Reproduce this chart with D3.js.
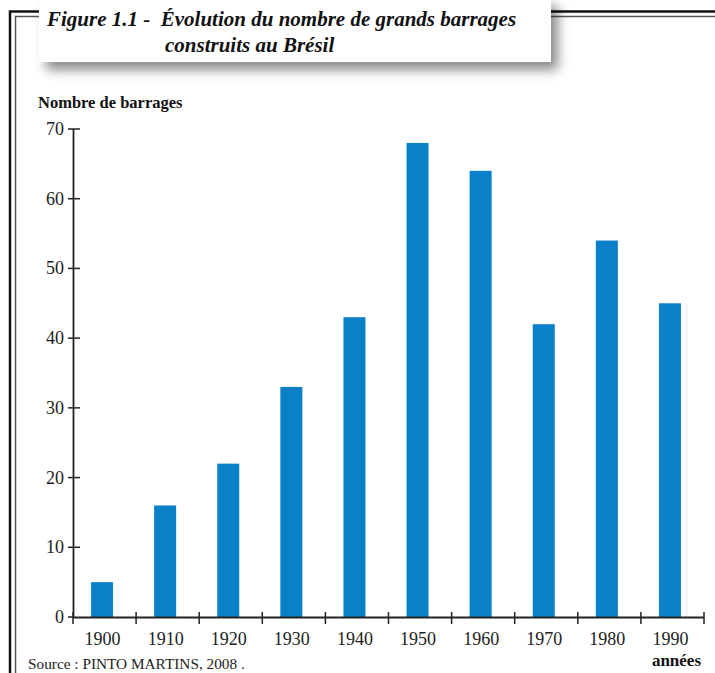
<!DOCTYPE html>
<html>
<head>
<meta charset="utf-8">
<script src="https://cdn.jsdelivr.net/npm/d3@7"></script>
<style>
  body { margin: 0; background: #fff; }
  text { font-family: "Liberation Serif", "DejaVu Serif", serif; }
</style>
</head>
<body>
<div class="dataContainer"></div>
<script>
// decades and number of large dams built
var years = ["1900", "1910", "1920", "1930", "1940", "1950", "1960", "1970", "1980", "1990"];
var barrages = [5, 16, 22, 33, 43, 68, 64, 42, 54, 45];
var yTicks = [0, 10, 20, 30, 40, 50, 60, 70];

var svg = d3.select(".dataContainer").append("svg")
    .attr("width", 715)
    .attr("height", 673);

// shadow for the title box
var defs = svg.append("defs");
var f = defs.append("filter").attr("id", "shadow")
    .attr("x", "-10%").attr("y", "-30%").attr("width", "130%").attr("height", "200%");
f.append("feDropShadow")
    .attr("dx", 7).attr("dy", 8)
    .attr("stdDeviation", 6)
    .attr("flood-color", "#000")
    .attr("flood-opacity", 0.45);

// double frame (left + top)
svg.append("path")
    .attr("d", "M10,673 V11.5 H715")
    .attr("fill", "none").attr("stroke", "#111").attr("stroke-width", 2.5);
svg.append("path")
    .attr("d", "M15.5,673 V16.5 H715")
    .attr("fill", "none").attr("stroke", "#555").attr("stroke-width", 1.5);

// title box
svg.append("rect")
    .attr("x", 39).attr("y", -2)
    .attr("width", 512).attr("height", 64)
    .attr("fill", "#fff")
    .attr("filter", "url(#shadow)");

svg.append("text")
    .attr("x", 47).attr("y", 26)
    .attr("font-size", 21).attr("font-style", "italic").attr("font-weight", "bold")
    .attr("fill", "#111")
    .text("Figure 1.1 -\u00a0 Évolution du nombre de grands barrages");
svg.append("text")
    .attr("x", 165).attr("y", 52)
    .attr("font-size", 21).attr("font-style", "italic").attr("font-weight", "bold")
    .attr("fill", "#111")
    .text("construits au Brésil");

var x = d3.scaleBand()
    .domain(years)
    .range([73, 704])
    .paddingInner(0)
    .paddingOuter(0);

var y = d3.scaleLinear()
    .domain([0, 70])
    .range([617, 129]);

// bars
svg.selectAll("rect.bar")
    .data(years)
    .enter()
    .append("rect")
    .attr("class", "bar")
    .attr("x", function (d) { return x(d) + x.bandwidth() / 2 - 13.5; })
    .attr("width", 22)
    .attr("y", function (d, i) { return y(barrages[i]); })
    .attr("height", function (d, i) { return y(0) - y(barrages[i]); })
    .attr("fill", "#0980c7");

// y axis
var yAxis = svg.append("g");
yAxis.append("line")
    .attr("x1", 73.5).attr("x2", 73.5)
    .attr("y1", y(70)).attr("y2", y(0))
    .attr("stroke", "#222").attr("stroke-width", 1.8);
yAxis.selectAll("line.tick")
    .data(yTicks)
    .enter()
    .append("line")
    .attr("class", "tick")
    .attr("x1", 68).attr("x2", function (d) { return d == 0 ? 74 : 80; })
    .attr("y1", function (d) { return y(d); })
    .attr("y2", function (d) { return y(d); })
    .attr("stroke", "#222").attr("stroke-width", 1.5);
yAxis.selectAll("text")
    .data(yTicks)
    .enter()
    .append("text")
    .attr("x", 64)
    .attr("y", function (d) { return y(d) + 6; })
    .attr("text-anchor", "end")
    .attr("font-size", 18)
    .attr("fill", "#222")
    .text(function (d) { return d; });

// x axis
var xEdges = years.map(function (d) { return x(d); }).concat([704]);
svg.append("line")
    .attr("x1", 73).attr("x2", 704)
    .attr("y1", 617.5).attr("y2", 617.5)
    .attr("stroke", "#222").attr("stroke-width", 1.8);
svg.selectAll("line.xtick")
    .data(xEdges)
    .enter()
    .append("line")
    .attr("class", "xtick")
    .attr("x1", function (d) { return d; })
    .attr("x2", function (d) { return d; })
    .attr("y1", 612).attr("y2", 624)
    .attr("stroke", "#222").attr("stroke-width", 1.5);
svg.selectAll("text.xlab")
    .data(years)
    .enter()
    .append("text")
    .attr("class", "xlab")
    .attr("x", function (d) { return x(d) + x.bandwidth() / 2 - 2; })
    .attr("y", 645)
    .attr("text-anchor", "middle")
    .attr("font-size", 18)
    .attr("fill", "#222")
    .text(function (d) { return d; });

// axis titles and source
svg.append("text")
    .attr("x", 38).attr("y", 108)
    .attr("font-size", 16.5).attr("font-weight", "bold")
    .attr("fill", "#111")
    .text("Nombre de barrages");
svg.append("text")
    .attr("x", 701).attr("y", 666)
    .attr("text-anchor", "end")
    .attr("font-size", 17).attr("font-weight", "bold")
    .attr("fill", "#111")
    .text("années");
svg.append("text")
    .attr("x", 28).attr("y", 669)
    .attr("font-size", 15.3)
    .attr("fill", "#222")
    .text("Source : PINTO MARTINS, 2008 .");
</script>
</body>
</html>
